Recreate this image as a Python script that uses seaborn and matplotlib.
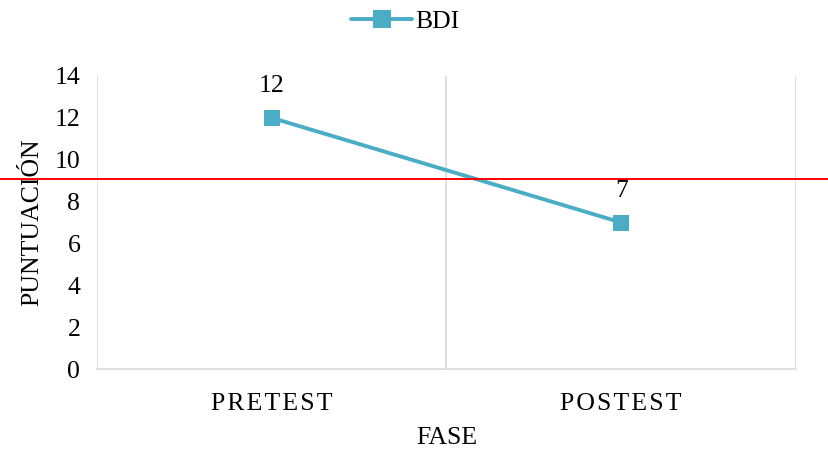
import matplotlib
matplotlib.use('Agg')

import numpy as np
import pandas as pd
import seaborn as sns
import matplotlib.pyplot as plt
from matplotlib.lines import Line2D

# data
fases = ["PRETEST", "POSTEST"]
bdi = [12, 7]
cutoff = 9.1
y_ticks = [0, 2, 4, 6, 8, 10, 12, 14]

line_color = "#4BACC6"
grid_color = "#d9d9d9"

sns.set_style("white")
plt.rcParams['font.family'] = ['Liberation Serif', 'DejaVu Serif']
plt.rcParams['text.color'] = 'black'
plt.rcParams['axes.labelcolor'] = 'black'

df = pd.DataFrame({"FASE": fases, "BDI": bdi})

fig = plt.figure(figsize=(8.29, 4.5), dpi=100)
ax = fig.add_axes([97 / 829, 1 - 369 / 450, 699 / 829, 293 / 450])

sns.lineplot(data=df, x="FASE", y="BDI", ax=ax, color=line_color, linewidth=2.8,
             marker="s", markersize=12, markeredgewidth=0, sort=False, label="BDI")

ax.set_xlim(-0.5, len(fases) - 0.5)
ax.set_ylim(0, 14)
ax.set_yticks(y_ticks)
ax.set_xticks(range(len(fases)))
ax.set_xticklabels(["\u200a".join(f) for f in fases])

# vertical category separators like Excel
for b in np.arange(-0.5, len(fases), 1.0):
    ax.axvline(b, color=grid_color, linewidth=1.2, zorder=0)

for side in ["top", "right", "left"]:
    ax.spines[side].set_visible(False)
ax.spines["bottom"].set_color(grid_color)
ax.spines["bottom"].set_linewidth(1.2)

fs = 18.5
ax.tick_params(axis="both", length=0, labelsize=fs, colors="black")
ax.tick_params(axis="x", pad=17)
ax.tick_params(axis="y", pad=12)

ax.set_xlabel("FASE", fontsize=fs, labelpad=9)
ax.set_ylabel("PUNTUACIÓN", fontsize=fs, labelpad=8)

# value labels
for i, v in enumerate(bdi):
    ax.annotate(str(v), (i, v), xytext=(0, 23), textcoords="offset points",
                ha="center", va="center", fontsize=fs)

# red cutoff line across the whole figure width
ax.axhline(cutoff, xmin=-97 / 699, xmax=(829 - 97) / 699, color="red",
           linewidth=1.4, clip_on=False, zorder=3)

ax.legend(handles=[Line2D([0], [0], color=line_color, linewidth=2.8, marker="s",
                          markersize=13, markeredgewidth=0)],
          labels=["BDI"], loc="center", bbox_to_anchor=(405 / 829, 1 - 22 / 450),
          bbox_transform=fig.transFigure, frameon=False, fontsize=fs,
          handlelength=2.4, handletextpad=0.1)

fig.savefig("out.png", dpi=100)
